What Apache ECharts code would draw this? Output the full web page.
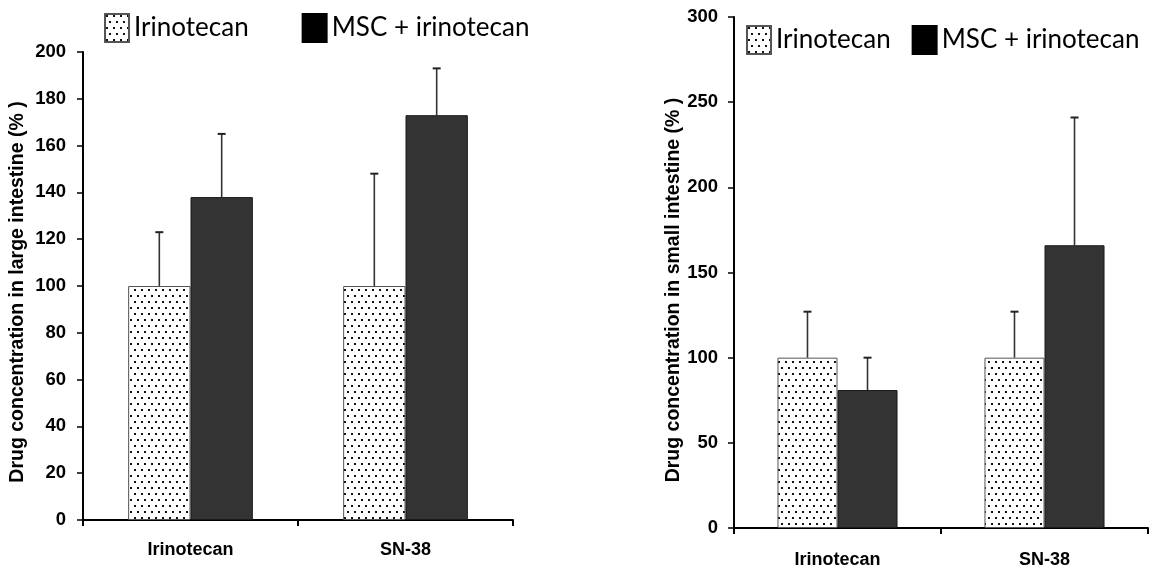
<!DOCTYPE html>
<html>
<head>
<meta charset="utf-8">
<script src="https://cdn.jsdelivr.net/npm/echarts@6/dist/echarts.min.js"></script>
<style>
html,body{margin:0;padding:0;background:#fff;}
#chart{width:1157px;height:571px;}
</style>
</head>
<body>
<div id="chart"></div>
<script>
// ---- data ----
const categories = ['Irinotecan', 'SN-38'];
const seriesNames = ['Irinotecan', 'MSC + irinotecan'];

// large intestine (left panel)
const largeIrinotecan = [100, 100];
const largeMSC = [138, 173];
const largeIrinotecanErr = [23, 48];
const largeMSCErr = [27, 20];
const largeAxis = { min: 0, max: 200, interval: 20 };
const largeTitle = 'Drug concentration in large intestine (% )';

// small intestine (right panel)
const smallIrinotecan = [100, 100];
const smallMSC = [81, 166];
const smallIrinotecanErr = [27, 27];
const smallMSCErr = [19, 75];
const smallAxis = { min: 0, max: 300, interval: 50 };
const smallTitle = 'Drug concentration in small intestine (% )';

// ---- styling helpers ----
function makeDots() {
  const c = document.createElement('canvas');
  c.width = 7; c.height = 12;
  const ctx = c.getContext('2d');
  ctx.fillStyle = '#ffffff';
  ctx.fillRect(0, 0, 7, 12);
  ctx.fillStyle = '#111111';
  ctx.fillRect(1, 1, 2, 2);
  ctx.fillRect(4, 7, 2, 2);
  return c;
}
const dotPattern = { image: makeDots(), repeat: 'repeat' };
const BAR_FRAC = 0.29;

const chart = echarts.init(document.getElementById('chart'), null, { renderer: 'canvas' });

function barSeries(name, data, idx, dotted) {
  return {
    type: 'bar', name: name, data: data,
    xAxisIndex: idx, yAxisIndex: idx,
    barWidth: (BAR_FRAC * 100) + '%', barGap: '0%',
    itemStyle: dotted
      ? { color: dotPattern, borderColor: '#555', borderWidth: 1 }
      : { color: '#333333', borderColor: '#1a1a1a', borderWidth: 1 },
    emphasis: { disabled: true },
    z: 2
  };
}

function errSeries(vals, errs, idx, side) {
  return {
    type: 'custom', name: 'err' + idx + side,
    xAxisIndex: idx, yAxisIndex: idx,
    data: vals.map((v, i) => [i, v, errs[i]]),
    renderItem: function (params, api) {
      const bw = api.size([1, 0])[0];
      const base = api.coord([api.value(0), api.value(1)]);
      const top = api.coord([api.value(0), api.value(1) + api.value(2)]);
      const x = base[0] + side * bw * BAR_FRAC / 2;
      const style = { stroke: '#333', lineWidth: 1.6 };
      return {
        type: 'group',
        children: [
          { type: 'line', shape: { x1: x, y1: base[1], x2: x, y2: top[1] }, style: style },
          { type: 'line', shape: { x1: x - 4, y1: top[1], x2: x + 4, y2: top[1] }, style: { stroke: '#222', lineWidth: 2 } }
        ]
      };
    },
    z: 5, silent: true
  };
}

const axisLineStyle = { color: '#000', width: 2 };

function xAxisDef(idx, margin) {
  return {
    type: 'category', data: categories, gridIndex: idx,
    axisLine: { lineStyle: axisLineStyle },
    axisTick: { show: true, length: 6, lineStyle: { color: '#000', width: 2 } },
    axisLabel: { margin: margin, color: '#000', fontFamily: 'Liberation Sans', fontWeight: 'bold', fontSize: 18 },
    splitLine: { show: false }
  };
}
function yAxisDef(idx, ax, margin) {
  return {
    type: 'value', gridIndex: idx, min: ax.min, max: ax.max, interval: ax.interval,
    axisLine: { show: true, lineStyle: axisLineStyle },
    axisTick: { show: true, length: 6, lineStyle: { color: '#000', width: 1.5 } },
    axisLabel: { margin: margin, color: '#000', fontFamily: 'Liberation Sans', fontWeight: 'bold', fontSize: 18.5 },
    splitLine: { show: false }
  };
}

const legendText = { fontFamily: 'Lato', fontSize: 26, color: '#000' };
const legendData = [
  { name: seriesNames[0] },
  { name: seriesNames[1], itemStyle: { color: '#000', borderColor: '#000' } }
];

const option = {
  backgroundColor: '#fff',
  animation: false,
  grid: [
    { left: 83, right: 644, top: 52, bottom: 51 },
    { left: 734, right: 9, top: 17, bottom: 43 }
  ],
  legend: [
    { data: legendData, left: 99, top: 8, itemWidth: 24, itemHeight: 28, itemGap: 53,
      textStyle: legendText, icon: 'rect', selectedMode: false },
    { data: legendData, left: 741, top: 20, itemWidth: 24, itemHeight: 28, itemGap: 21,
      textStyle: legendText, icon: 'rect', selectedMode: false }
  ],
  xAxis: [xAxisDef(0, 21), xAxisDef(1, 23)],
  yAxis: [yAxisDef(0, largeAxis, 17), yAxisDef(1, smallAxis, 16)],
  graphic: [
    { type: 'text', x: 18, y: 292, rotation: Math.PI / 2,
      style: { text: largeTitle, font: 'bold 19.5px "Liberation Sans"', fill: '#000', align: 'center', verticalAlign: 'middle' } },
    { type: 'text', x: 674, y: 290, rotation: Math.PI / 2,
      style: { text: smallTitle, font: 'bold 19.5px "Liberation Sans"', fill: '#000', align: 'center', verticalAlign: 'middle' } }
  ],
  series: [
    barSeries(seriesNames[0], largeIrinotecan, 0, true),
    barSeries(seriesNames[1], largeMSC, 0, false),
    errSeries(largeIrinotecan, largeIrinotecanErr, 0, -1),
    errSeries(largeMSC, largeMSCErr, 0, 1),
    barSeries(seriesNames[0], smallIrinotecan, 1, true),
    barSeries(seriesNames[1], smallMSC, 1, false),
    errSeries(smallIrinotecan, smallIrinotecanErr, 1, -1),
    errSeries(smallMSC, smallMSCErr, 1, 1)
  ]
};
chart.setOption(option);
</script>
</body>
</html>
